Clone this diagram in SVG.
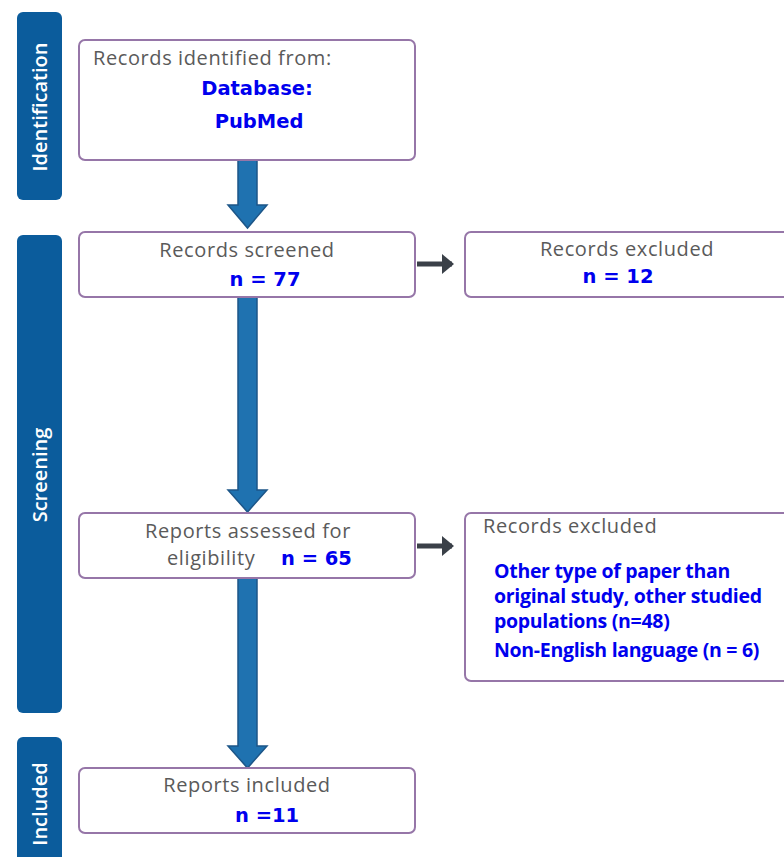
<svg xmlns="http://www.w3.org/2000/svg" width="784" height="857" viewBox="0 0 784 857">
<defs>
<style>
.bar{fill:#0b5c9c}
.bl{fill:#fff;font-family:"Open Sans","Liberation Sans",sans-serif;font-weight:600;font-size:20px;text-anchor:middle}
.box{fill:#fff;stroke:#9676a8;stroke-width:2}
.g{fill:#5a5a5a;font-family:"Open Sans","Liberation Sans",sans-serif;font-size:20px;letter-spacing:0.6px}
.b{fill:#0000ee;font-family:"DejaVu Sans",sans-serif;font-weight:bold;font-size:19.5px}
.c{fill:#0000ee;font-family:"Open Sans","Liberation Sans",sans-serif;font-weight:bold;font-size:19.5px;letter-spacing:-0.3px}
.m{text-anchor:middle}
.va{fill:#1f72b0;stroke:#1d5688;stroke-width:1.5}
.ha{stroke:#3a4048;stroke-width:5;fill:none}
</style>
<marker id="ah" markerWidth="4" markerHeight="4" refX="2" refY="2" orient="auto" markerUnits="strokeWidth">
<path d="M0,0 L2.4,2 L0,4 Z" fill="#3a4048"/>
</marker>
</defs>
<rect width="784" height="857" fill="#fff"/>
<g id="stage-identification">
<rect class="bar" x="17" y="12" width="45" height="188" rx="6"/>
<text class="bl" transform="translate(47,107) rotate(-90)">Identification</text>
</g>
<g id="stage-screening">
<rect class="bar" x="17" y="235" width="45" height="478" rx="6"/>
<text class="bl" transform="translate(47,475) rotate(-90)">Screening</text>
</g>
<g id="stage-included">
<rect class="bar" x="17" y="737" width="45" height="130" rx="6"/>
<text class="bl" transform="translate(47,804) rotate(-90)">Included</text>
</g>
<g id="connectors">
<path class="va" d="M238,159 H257 V205 H267 L247.5,228 L228,205 H238 Z"/>
<path class="va" d="M238,292 H257 V490 H267 L247.5,512 L228,490 H238 Z"/>
<path class="va" d="M238,577 H257 V746 H267 L247.5,768 L228,746 H238 Z"/>
<line class="ha" x1="417" y1="264" x2="452" y2="264" marker-end="url(#ah)"/>
<line class="ha" x1="417" y1="546" x2="452" y2="546" marker-end="url(#ah)"/>
</g>
<g id="records-identified">
<rect class="box" x="79" y="40" width="336" height="120" rx="6"/>
<text class="g" x="93" y="65">Records identified from:</text>
<text class="b m" x="257" y="95">Database:</text>
<text class="b m" x="259" y="128">PubMed</text>
</g>
<g id="records-screened">
<rect class="box" x="79" y="232" width="336" height="65" rx="6"/>
<text class="g m" x="247" y="257">Records screened</text>
<text class="b m" x="265" y="286">n = 77</text>
</g>
<g id="records-excluded-1">
<rect class="box" x="465" y="232" width="330" height="65" rx="6"/>
<text class="g m" x="627" y="256">Records excluded</text>
<text class="b m" x="618" y="283">n = 12</text>
</g>
<g id="reports-assessed">
<rect class="box" x="79" y="513" width="336" height="65" rx="6"/>
<text class="g m" x="248" y="538">Reports assessed for</text>
<text class="g" x="167" y="565">eligibility</text>
<text class="b" x="281" y="565">n = 65</text>
</g>
<g id="records-excluded-2">
<rect class="box" x="465" y="513" width="330" height="168" rx="6"/>
<text class="g" x="483" y="533">Records excluded</text>
<text class="c" x="494" y="578">Other type of paper than</text>
<text class="c" x="494" y="603">original study, other studied</text>
<text class="c" x="494" y="628">populations (n=48)</text>
<text class="c" x="494" y="657">Non-English language (n = 6)</text>
</g>
<g id="reports-included">
<rect class="box" x="79" y="768" width="336" height="65" rx="6"/>
<text class="g m" x="247" y="792">Reports included</text>
<text class="b" x="235" y="822">n =11</text>
</g>
</svg>
